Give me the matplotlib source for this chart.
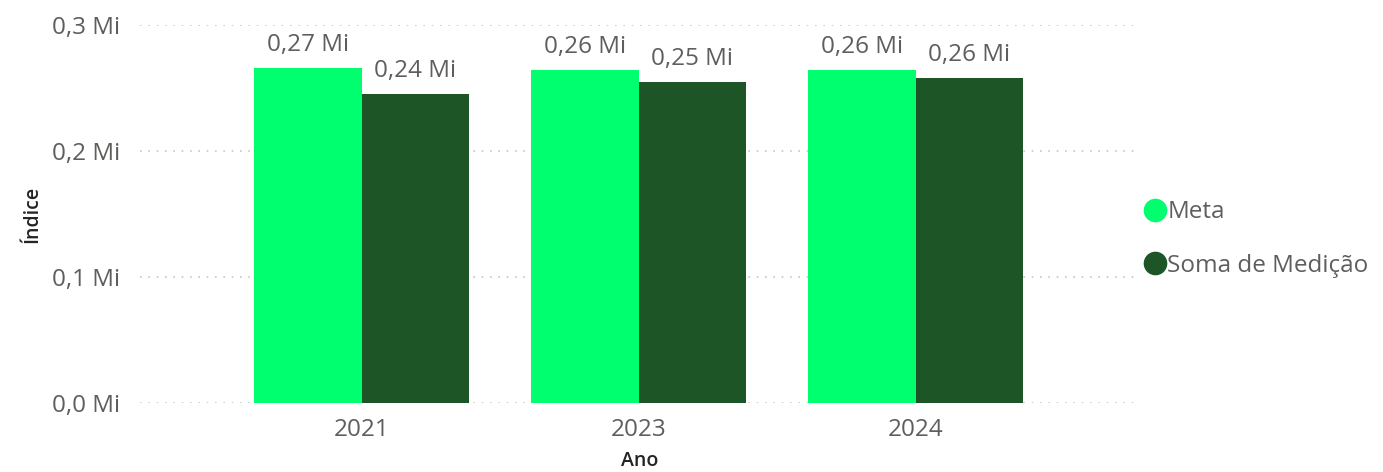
import matplotlib.pyplot as plt
from matplotlib.lines import Line2D
from matplotlib.ticker import FuncFormatter

plt.rcParams['font.family'] = ['Open Sans', 'DejaVu Sans']

# Data
anos = ['2021', '2023', '2024']
meta = [0.266, 0.264, 0.2645]
medicao = [0.2449, 0.2549, 0.2580]
series_names = ['Meta', 'Soma de Medição']
colors = ['#00FF6E', '#1E5526']

text_gray = '#605E5C'
fs = 17.5

fig = plt.figure(figsize=(13.83, 4.72), dpi=100)
ax = fig.add_axes([140 / 1383, 69 / 472, 1000 / 1383, 378 / 472])

x = list(range(len(anos)))
w = 0.387
b1 = ax.bar([i - w / 2 for i in x], meta, width=w, color=colors[0], zorder=2)
b2 = ax.bar([i + w / 2 for i in x], medicao, width=w, color=colors[1], zorder=2)

fmt = lambda v: f"{v:.2f}".replace('.', ',') + " Mi"
ax.bar_label(b1, labels=[fmt(v) for v in meta], padding=8, fontsize=fs, color=text_gray)
ax.bar_label(b2, labels=[fmt(v) for v in medicao], padding=8, fontsize=fs, color=text_gray)

ax.set_ylim(0, 0.3)
ax.set_xlim(-0.80, 2.81)
ax.set_yticks([0, 0.1, 0.2, 0.3])
ax.yaxis.set_major_formatter(FuncFormatter(lambda v, p: f"{v:.1f}".replace('.', ',') + " Mi"))
ax.set_xticks(x)
ax.set_xticklabels(anos)
ax.tick_params(axis='y', length=0, pad=14, labelsize=fs, labelcolor=text_gray)
ax.tick_params(axis='x', length=0, pad=11, labelsize=fs, labelcolor=text_gray)

ax.grid(axis='y', linestyle=(0, (1, 4)), color='#C8C6C4', linewidth=1.2, zorder=0)
for s in ax.spines.values():
    s.set_visible(False)

ax.set_xlabel('Ano', fontsize=14, color='#252423', fontweight='semibold')
ax.set_ylabel('Índice', fontsize=14, color='#252423', fontweight='semibold')
ax.xaxis.set_label_coords(0.5, -0.128)
ax.yaxis.set_label_coords(-0.098, 0.5)

handles = [Line2D([], [], marker='o', ls='', color=c, markersize=16) for c in colors]
ax.legend(handles, series_names, loc='center left', bbox_to_anchor=(1143 / 1383, 233 / 472),
          bbox_transform=fig.transFigure, frameon=False, handletextpad=0.0,
          labelspacing=1.2, handlelength=1.0, borderaxespad=0, borderpad=0,
          fontsize=fs, labelcolor=text_gray)

fig.savefig('out.png', dpi=100)
